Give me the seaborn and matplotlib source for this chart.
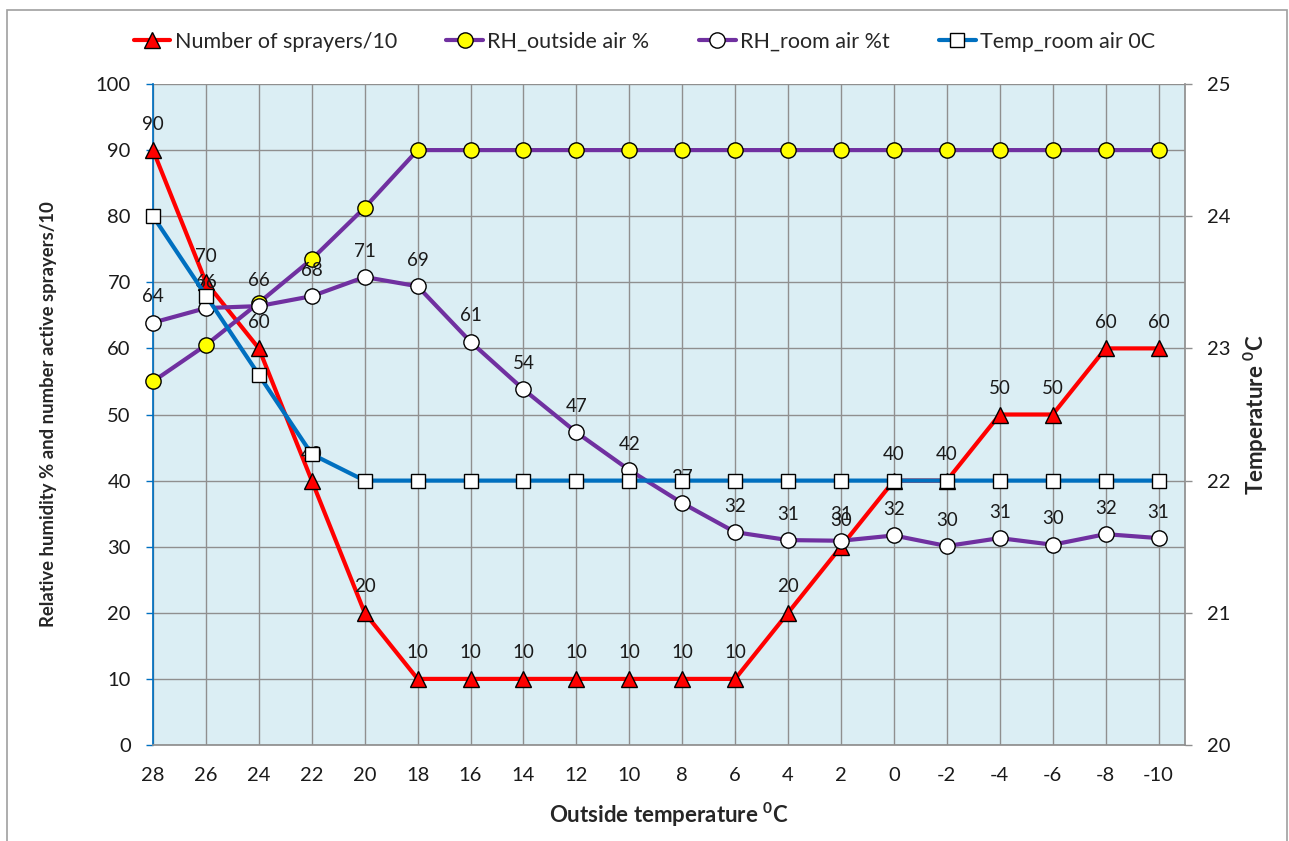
import matplotlib
matplotlib.use("Agg")
import matplotlib.pyplot as plt
import matplotlib.patches as mpatches
import numpy as np
import pandas as pd
import seaborn as sns

# Outside temperature categories (°C), plotted left to right as listed
outside_temp = [28, 26, 24, 22, 20, 18, 16, 14, 12, 10, 8, 6, 4, 2, 0, -2, -4, -6, -8, -10]

# Series values
sprayers_per10 = [90, 70, 60, 40, 20, 10, 10, 10, 10, 10, 10, 10, 20, 30, 40, 40, 50, 50, 60, 60]
rh_outside = [55, 60.5, 66.9, 73.5, 81.3, 90, 90, 90, 90, 90, 90, 90, 90, 90, 90, 90, 90, 90, 90, 90]
rh_room = [63.9, 66.1, 66.4, 67.9, 70.8, 69.4, 61.0, 53.8, 47.3, 41.6, 36.6, 32.2,
           31.0, 30.9, 31.7, 30.1, 31.3, 30.3, 31.9, 31.3]
temp_room = [24.0, 23.4, 22.8, 22.2, 22.0, 22.0, 22.0, 22.0, 22.0, 22.0, 22.0, 22.0,
             22.0, 22.0, 22.0, 22.0, 22.0, 22.0, 22.0, 22.0]

x_label = "Outside temperature $\\mathbf{^0}$C"
y_label = "Relative humidity % and number active sprayers/10"
y2_label = "Temperature $\\mathbf{^0}$C"

RED = "#FF0000"
PURPLE = "#7030A0"
BLUE = "#0070C0"
BG = "#DBEEF4"
GRID = "#8F8F8F"
TXT = "#1A1A1A"

sns.set_theme(style="white")
plt.rcParams["font.family"] = ["Lato", "DejaVu Sans"]
plt.rcParams["mathtext.fontset"] = "custom"
plt.rcParams["mathtext.rm"] = "Lato"
plt.rcParams["mathtext.bf"] = "Lato:bold"

pos = np.arange(len(outside_temp))
df = pd.DataFrame({
    "pos": pos,
    "sprayers": sprayers_per10,
    "rh_out": rh_outside,
    "rh_room": rh_room,
    "temp": temp_room,
})

fig = plt.figure(figsize=(12.89, 8.41), dpi=100)
ax = fig.add_axes([153 / 1289, 1 - 745 / 841, (1185 - 153) / 1289, (745 - 84) / 841])
ax.set_facecolor(BG)

lw = 3
sns.lineplot(data=df, x="pos", y="sprayers", ax=ax, color=RED, lw=lw, marker="^",
             markersize=12, markerfacecolor=RED, markeredgecolor="black",
             markeredgewidth=1, label="Number of sprayers/10", clip_on=False, zorder=3)
sns.lineplot(data=df, x="pos", y="rh_out", ax=ax, color=PURPLE, lw=lw, marker="o",
             markersize=11, markerfacecolor="#FFFF00", markeredgecolor="black",
             markeredgewidth=1, label="RH_outside air %", clip_on=False, zorder=4)
sns.lineplot(data=df, x="pos", y="rh_room", ax=ax, color=PURPLE, lw=lw, marker="o",
             markersize=11, markerfacecolor="white", markeredgecolor="black",
             markeredgewidth=1, label="RH_room air %t", clip_on=False, zorder=5)

# Value labels for sprayers and room humidity
for series in (sprayers_per10, rh_room):
    for xi, v in zip(pos, series):
        ax.annotate(f"{v:.0f}", (xi, v), xytext=(0, 26), textcoords="offset pixels",
                    ha="center", va="center", fontsize=13.5, color=TXT, zorder=6)

ax.set_xlim(0, 19.5)
ax.set_ylim(0, 100)
ax.set_xticks(pos)
ax.set_xticklabels([str(t) for t in outside_temp])
ax.set_yticks(np.arange(0, 101, 10))
ax.grid(True, color=GRID, lw=1)
ax.set_axisbelow(True)
ax.tick_params(axis="both", labelsize=14.5, direction="out", length=5, width=1,
               colors=TXT)
ax.tick_params(axis="y", color=BLUE, pad=11)
ax.tick_params(axis="x", color=GRID, pad=11)
for side in ["top", "right"]:
    ax.spines[side].set_visible(False)
ax.spines["left"].set_color(BLUE)
ax.spines["bottom"].set_color(GRID)
ax.set_xlabel(x_label, fontsize=16, fontweight="bold", labelpad=12)
ax.set_ylabel(y_label, fontsize=13.3, fontweight="bold", labelpad=28)

# Room temperature on the secondary axis
ax2 = ax.twinx()
ax2.patch.set_visible(False)
sns.lineplot(data=df, x="pos", y="temp", ax=ax2, color=BLUE, lw=lw, marker="s",
             markersize=10, markerfacecolor="white", markeredgecolor="black",
             markeredgewidth=1, label="Temp_room air 0C", clip_on=False, zorder=3)
ax2.set_ylim(20, 25)
ax2.set_yticks(np.arange(20, 26, 1))
ax2.tick_params(axis="y", labelsize=14.5, direction="out", length=5, width=1,
                colors=TXT, pad=11)
ax2.tick_params(axis="y", color=GRID)
for side in ["top", "left", "bottom"]:
    ax2.spines[side].set_visible(False)
ax2.spines["right"].set_color(GRID)
ax2.set_ylabel(y2_label, fontsize=16, fontweight="bold", labelpad=8)
ax2.set_xlim(0, 19.5)

h1, l1 = ax.get_legend_handles_labels()
h2, l2 = ax2.get_legend_handles_labels()
ax.get_legend().remove()
ax2.get_legend().remove()
fig.legend(h1 + h2, l1 + l2, loc="center", bbox_to_anchor=(0.5, 1 - 42 / 841),
           ncol=4, frameon=False, fontsize=15.5, handlelength=1.7,
           handletextpad=0.2, columnspacing=2.3)

# Outer chart border
fig.patches.append(mpatches.Rectangle((7 / 1289, -0.02), 1280 / 1289, 1.02 - 10 / 841,
                                      transform=fig.transFigure, fill=False,
                                      edgecolor="#A0A0A0", lw=1.2))

fig.savefig("out.png", dpi=100)
